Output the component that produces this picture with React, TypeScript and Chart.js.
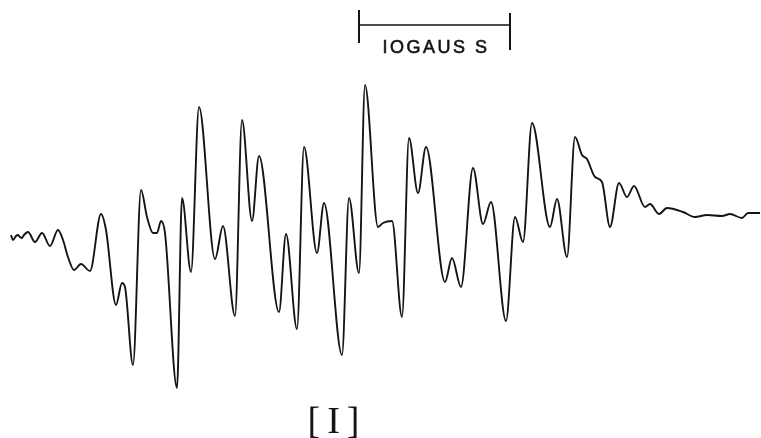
import React, { useEffect, useRef } from "react";
import { Chart, registerables } from "chart.js";

Chart.register(...registerables);

// Magnetic field position (arbitrary units across the sweep)
const fieldPos = [
  11, 13, 16, 18, 20, 22, 24, 28, 35, 42, 50, 58, 63, 68, 74, 81, 90, 101, 106, 116,
  122, 125, 133, 141, 147, 153, 157, 161, 165, 177, 182, 191, 199, 215, 223, 235, 242, 252, 259, 279,
  286, 297, 304, 317, 324, 342, 349, 359, 365, 378, 383, 392, 402, 409, 418, 426, 445, 452, 461, 473,
  483, 491, 506, 515, 523, 532, 550, 557, 567, 575, 582, 587, 595, 602, 610, 619, 627, 634, 645, 650,
  659, 667, 683, 695, 707, 722, 730, 742, 748, 760,
];

// First-derivative EPR signal amplitude
const signal = [
  -15, -20, -16, -15, -17, -18, -15, -12, -22, -13, -26, -10, -20, -37, -50, -44, -51, 6, -10, -85,
  -63, -67, -145, 30, 3, -13, -13, -1, -13, -168, 22, -52, 113, -39, -6, -96, 100, -1, 64, -92,
  -14, -109, 73, -33, 17, -135, 22, -53, 135, -7, -3, -1, -97, 82, 27, 73, -62, -38, -67, 52,
  -4, 18, -101, 3, -22, 97, -7, 21, -37, 83, 65, 61, 43, 38, -7, 37, 23, 34, 13, 16,
  6, 12, 8, 3, 5, 4, 6, 2, 7, 7,
];

// 10 gauss scale bar
const barX = [359, 510];
const barY = 195;
const barLeftTick = [210, 177];
const barRightTick = [207, 170];
const barLabel = "IOGAUS S";
const barLabelPos = { x: 436, y: 172 };
const figLabel = "[I]";
const figLabelPos = { x: 337, y: -203 };

const X_MIN = 0;
const X_MAX = 761;
const Y_MIN = -218;
const Y_MAX = 220;

const INK = "#141414";

const textPlugin = {
  id: "textLabels",
  afterDatasetsDraw(chart: any) {
    const { ctx, scales } = chart;
    const xs = scales.x;
    const ys = scales.y;
    ctx.save();
    ctx.fillStyle = INK;
    ctx.strokeStyle = INK;
    ctx.textAlign = "center";
    ctx.textBaseline = "middle";
    ctx.font = "18px 'Liberation Sans', sans-serif";
    (ctx as any).letterSpacing = "2.5px";
    const bx = xs.getPixelForValue(barLabelPos.x);
    const by = ys.getPixelForValue(barLabelPos.y);
    ctx.lineWidth = 0.6;
    ctx.fillText(barLabel, bx, by);
    ctx.strokeText(barLabel, bx, by);
    ctx.font = "38px 'Liberation Serif', serif";
    (ctx as any).letterSpacing = "7px";
    const fx = xs.getPixelForValue(figLabelPos.x);
    const fy = ys.getPixelForValue(figLabelPos.y);
    ctx.fillText(figLabel, fx, fy);
    ctx.restore();
  },
};

export default function App() {
  const ref = useRef<HTMLCanvasElement | null>(null);

  useEffect(() => {
    document.body.style.margin = "0";
    const canvas = ref.current;
    if (!canvas) return;
    const spectrum = fieldPos.map((x, i) => ({ x, y: signal[i] }));
    const lineStyle = {
      borderColor: INK,
      borderWidth: 1.9,
      pointRadius: 0,
      fill: false,
    };
    const chart = new Chart(canvas, {
      type: "line",
      data: {
        datasets: [
          {
            data: spectrum,
            ...lineStyle,
            cubicInterpolationMode: "monotone",
          },
          {
            data: [
              { x: barX[0], y: barY },
              { x: barX[1], y: barY },
            ],
            ...lineStyle,
            borderWidth: 1.6,
          },
          {
            data: [
              { x: barX[0], y: barLeftTick[0] },
              { x: barX[0], y: barLeftTick[1] },
            ],
            ...lineStyle,
            borderWidth: 2,
          },
          {
            data: [
              { x: barX[1], y: barRightTick[0] },
              { x: barX[1], y: barRightTick[1] },
            ],
            ...lineStyle,
            borderWidth: 2,
          },
        ],
      } as any,
      options: {
        responsive: false,
        animation: false,
        layout: { padding: 0 },
        plugins: {
          legend: { display: false },
          tooltip: { enabled: false },
          title: { display: false },
        },
        scales: {
          x: { type: "linear", min: X_MIN, max: X_MAX, display: false },
          y: { type: "linear", min: Y_MIN, max: Y_MAX, display: false },
        },
      } as any,
      plugins: [textPlugin],
    });
    return () => chart.destroy();
  }, []);

  return (
    <div style={{ width: 761, height: 438, background: "#fff" }}>
      <canvas ref={ref} width={761} height={438} style={{ display: "block" }} />
    </div>
  );
}
